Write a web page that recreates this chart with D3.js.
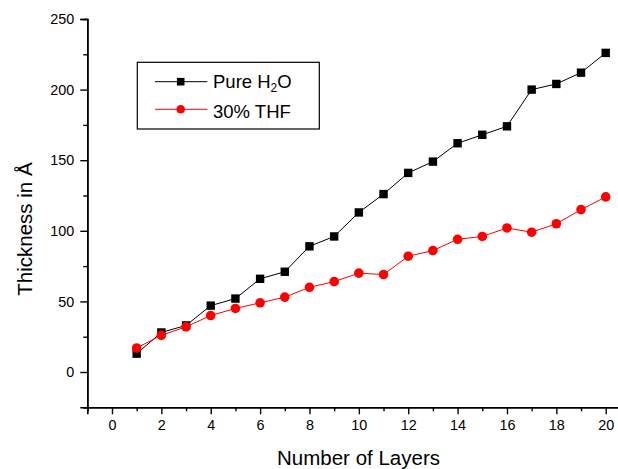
<!DOCTYPE html>
<html>
<head>
<meta charset="utf-8">
<script src="https://cdn.jsdelivr.net/npm/d3@7"></script>
<style>
html,body{margin:0;padding:0;background:#fff;}
svg{display:block;font-family:"Liberation Sans",Arial,sans-serif;}
</style>
</head>
<body>
<svg id="chart" width="618" height="469"></svg>
<script>
const layers = [1,2,3,4,5,6,7,8,9,10,11,12,13,14,15,16,17,18,19,20];
const pureH2O = [13,28,33,47,52,66,71,89,96,113,126,141,149,162,168,174,200,204,212,226];
const thf30 = [17,26,32,40,45,49,53,60,64,70,69,82,86,94,96,102,99,105,115,124];
const xTicks = [0,2,4,6,8,10,12,14,16,18,20];
const yTicks = [0,50,100,150,200,250];
const xLabel = "Number of Layers";
const yLabel = "Thickness in Å";

const svg = d3.select("#chart");
const x = d3.scaleLinear().domain([-1,21]).range([87.3,630.4]);
const y = d3.scaleLinear().domain([-25,250]).range([407.3,19]);

// axes
const xAxis = d3.axisBottom(x).tickValues(xTicks).tickSize(7).tickPadding(5).tickFormat(d3.format("d"));
const xMinor = d3.axisBottom(x).tickValues(d3.range(-1,22,2)).tickSize(4).tickFormat("");
const yAxis = d3.axisLeft(y).tickValues(yTicks).tickSize(7).tickPadding(6).tickFormat(d3.format("d"));
const yMinor = d3.axisLeft(y).tickValues(d3.range(-25,250,50)).tickSize(4).tickFormat("");

function style(g){
  g.select(".domain").attr("stroke","#000").attr("stroke-width",1.6);
  g.selectAll(".tick line").attr("stroke","#000").attr("stroke-width",1.4);
  g.selectAll(".tick text").attr("fill","#000").style("font-size","14.4px").style("font-family","'Liberation Sans',Arial,sans-serif");
}
svg.append("g").attr("transform","translate(0,407.3)").call(xMinor).call(style);
svg.append("g").attr("transform","translate(0,407.3)").call(xAxis).call(style);
svg.append("g").attr("transform","translate(87.3,0)").call(yMinor).call(style);
svg.append("g").attr("transform","translate(87.3,0)").call(yAxis).call(style);

// axis titles
svg.append("text").attr("x",358.5).attr("y",465).attr("text-anchor","middle")
  .style("font-size","20.5px").attr("fill","#000").text(xLabel);
svg.append("text").attr("transform","translate(32,229) rotate(-90)").attr("text-anchor","middle")
  .style("font-size","20.5px").attr("fill","#000").text(yLabel);

// lines
const line = d3.line().x((d,i)=>x(layers[i])).y(d=>y(d));
svg.append("path").datum(pureH2O).attr("d",line).attr("fill","none").attr("stroke","#000").attr("stroke-width",1);
svg.append("path").datum(thf30).attr("d",line).attr("fill","none").attr("stroke","#ff0000").attr("stroke-width",1);

// markers
const sq = 8.4;
svg.append("g").selectAll("rect").data(pureH2O).join("rect")
  .attr("x",(d,i)=>x(layers[i])-sq/2).attr("y",d=>y(d)-sq/2)
  .attr("width",sq).attr("height",sq).attr("fill","#000");
svg.append("g").selectAll("circle").data(thf30).join("circle")
  .attr("cx",(d,i)=>x(layers[i])).attr("cy",d=>y(d)).attr("r",4.8).attr("fill","#ff0000");

// legend
const lg = svg.append("g");
lg.append("rect").attr("x",137.3).attr("y",62.3).attr("width",182).attr("height",66.7)
  .attr("fill","#fff").attr("stroke","#000").attr("stroke-width",1.2);
// row 1
lg.append("line").attr("x1",155).attr("x2",207.3).attr("y1",81.7).attr("y2",81.7).attr("stroke","#000").attr("stroke-width",1);
lg.append("rect").attr("x",180.7-3.8).attr("y",81.7-3.8).attr("width",7.6).attr("height",7.6).attr("fill","#000");
const t1 = lg.append("text").attr("x",213).attr("y",88.3).style("font-size","18.5px").attr("fill","#000");
t1.append("tspan").text("Pure H");
t1.append("tspan").attr("dy",4).style("font-size","12px").text("2");
t1.append("tspan").attr("dy",-4).text("O");
// row 2
lg.append("line").attr("x1",155).attr("x2",207.3).attr("y1",109.3).attr("y2",109.3).attr("stroke","#ff0000").attr("stroke-width",1);
lg.append("circle").attr("cx",180.7).attr("cy",109.3).attr("r",4.3).attr("fill","#ff0000");
lg.append("text").attr("x",213).attr("y",117.5).style("font-size","18.5px").attr("fill","#000").text("30% THF");
</script>
</body>
</html>
